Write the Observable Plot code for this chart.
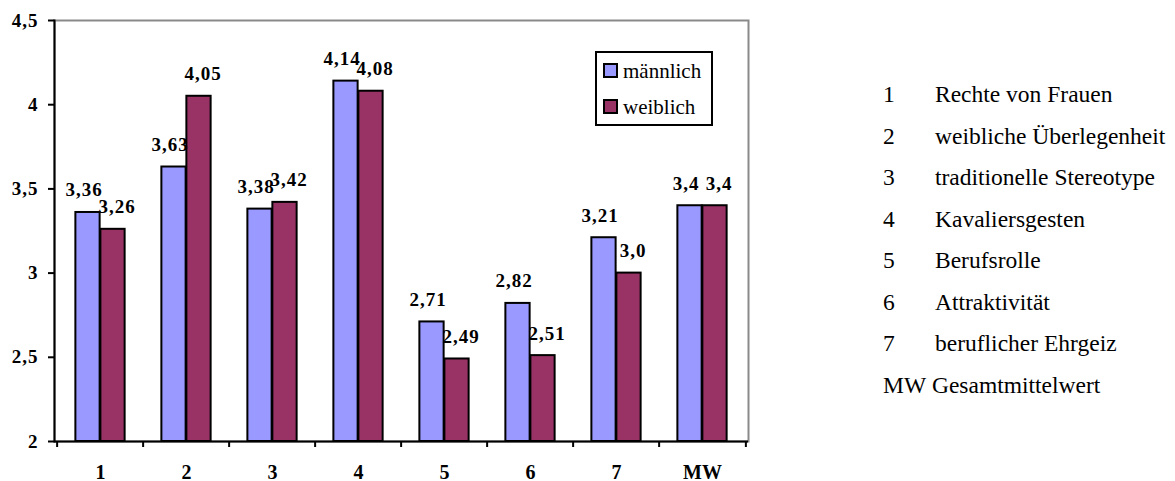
<!DOCTYPE html>
<html>
<head>
<meta charset="utf-8">
<script src="https://cdn.jsdelivr.net/npm/d3@7"></script>
<script src="https://cdn.jsdelivr.net/npm/@observablehq/plot@0.6"></script>
<style>
  body { margin: 0; background: #fff; }
  #chart { position: relative; width: 1175px; height: 481px; }
  #chart, #chart *, #chart svg text { font-family: "Liberation Serif", Tinos, "Times New Roman", serif; }
  #chart svg { position: absolute; left: 0; top: 0; }
  g[aria-label="text"], g[aria-label="y-axis tick label"] { letter-spacing: 1px; }
  .legend { position: absolute; left: 595px; top: 51px; width: 118px; height: 75px; box-sizing: border-box;
            border: 2px solid #000; background: #fff; }
  .legend .sw { position: absolute; left: 6px; width: 15px; height: 15px; box-sizing: border-box; border: 2px solid #000; }
  .legend .lb { position: absolute; left: 26px; font-size: 21px; line-height: 21px; color: #000; white-space: nowrap; }
  .items { position: absolute; left: 883px; top: 0; }
  .items .row { position: absolute; left: 0; font-size: 23.5px; line-height: 23.5px; white-space: nowrap; color: #000; }
  .items .key { display: inline-block; min-width: 52px; }
</style>
</head>
<body>
<div id="chart"></div>
<script>
// Mean ratings per item, split by gender
const categories = ["1", "2", "3", "4", "5", "6", "7", "MW"];
const maennlich = [3.36, 3.63, 3.38, 4.14, 2.71, 2.82, 3.21, 3.4];
const weiblich = [3.26, 4.05, 3.42, 4.08, 2.49, 2.51, 3.0, 3.4];
const seriesNames = ["männlich", "weiblich"];
const seriesColors = ["#9999FF", "#993366"];
const yTicks = [2, 2.5, 3, 3.5, 4, 4.5];

// Item descriptions shown beside the chart
const itemKeys = ["1", "2", "3", "4", "5", "6", "7", "MW"];
const itemNames = [
  "Rechte von Frauen",
  "weibliche Überlegenheit",
  "traditionelle Stereotype",
  "Kavaliersgesten",
  "Berufsrolle",
  "Attraktivität",
  "beruflicher Ehrgeiz",
  "Gesamtmittelwert"
];

const W = 1175, H = 481;
const mL = 54, mR = 427, mT = 20, mB = 40;
const step = (W - mL - mR) / categories.length;
const half = step / 2;
const barW = 25;
const serif = "'Liberation Serif', Tinos, 'Times New Roman', serif";

const rows = (vals, s) => vals.map((v, i) => ({cat: categories[i], value: v, series: seriesNames[s]}));
const male = rows(maennlich, 0);
const female = rows(weiblich, 1);

// German decimal comma; bar labels keep at least one decimal place
const comma = v => String(v).replace(".", ",");
const fmt = v => { let s = String(v); if (!s.includes(".")) s += ".0"; return s.replace(".", ","); };

const bold = {fontWeight: "bold", fontSize: 19, fill: "#000"};

const chart = Plot.plot({
  width: W,
  height: H,
  marginLeft: mL,
  marginRight: mR,
  marginTop: mT,
  marginBottom: mB,
  style: {fontFamily: serif, background: "transparent", overflow: "visible"},
  x: {type: "band", domain: categories, padding: 0, axis: null},
  y: {domain: [2, 4.5], axis: null},
  marks: [
    Plot.frame({stroke: "#8a8a8a", strokeWidth: 2}),
    Plot.barY(male, {x: "cat", y1: 2, y2: "value", fill: seriesColors[0], stroke: "#000", strokeWidth: 2,
      insetLeft: half - barW, insetRight: half}),
    Plot.barY(female, {x: "cat", y1: 2, y2: "value", fill: seriesColors[1], stroke: "#000", strokeWidth: 2,
      insetLeft: half, insetRight: half - barW}),
    Plot.frame({anchor: "left", stroke: "#000", strokeWidth: 2}),
    Plot.ruleY([2], {stroke: "#000", strokeWidth: 2}),
    Plot.axisY({ticks: yTicks, tickFormat: comma, tickSize: 6, tickPadding: 10, strokeWidth: 2, stroke: "#000", label: null, ...bold}),
    // boundary ticks between the groups
    Plot.axisX({ticks: categories, tickFormat: () => "", tickSize: 6, strokeWidth: 2, stroke: "#000", dx: -half, label: null}),
    Plot.axisX({ticks: categories.slice(-1), tickFormat: () => "", tickSize: 6, strokeWidth: 2, stroke: "#000", dx: half, label: null}),
    Plot.axisX({tickSize: 0, tickPadding: 23, fontWeight: "bold", fontSize: 20, fill: "#000", label: null}),
    Plot.text(male, {x: "cat", y: "value", text: d => fmt(d.value), dx: -barW / 2 - 4, dy: -16, lineAnchor: "bottom", ...bold}),
    Plot.text(female, {x: "cat", y: "value", text: d => fmt(d.value), dx: barW / 2 + 4, dy: -16, lineAnchor: "bottom", ...bold})
  ]
});

const root = document.getElementById("chart");
root.appendChild(chart);

// Legend box
const legend = document.createElement("div");
legend.className = "legend";
seriesNames.forEach((name, i) => {
  const sw = document.createElement("div");
  sw.className = "sw";
  sw.style.top = (10 + 36 * i) + "px";
  sw.style.background = seriesColors[i];
  const lb = document.createElement("div");
  lb.className = "lb";
  lb.style.top = (8 + 36 * i) + "px";
  lb.textContent = name;
  legend.appendChild(sw);
  legend.appendChild(lb);
});
root.appendChild(legend);

// Item list on the right
const items = document.createElement("div");
items.className = "items";
itemKeys.forEach((k, i) => {
  const r = document.createElement("div");
  r.className = "row";
  r.style.top = (95 + 41.5 * i - 11.7) + "px";
  const key = document.createElement("span");
  key.className = "key";
  key.textContent = k;
  const nm = document.createElement("span");
  nm.textContent = (k === "MW" ? " " : "") + itemNames[i];
  if (k === "MW") { key.style.minWidth = "0"; }
  r.appendChild(key);
  r.appendChild(nm);
  items.appendChild(r);
});
root.appendChild(items);
</script>
</body>
</html>
